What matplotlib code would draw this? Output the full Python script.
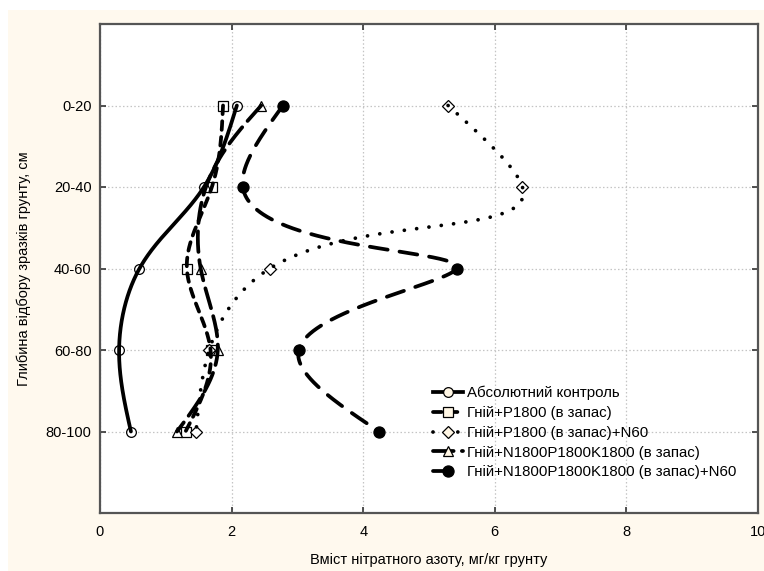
import numpy as np
import matplotlib
matplotlib.use("Agg")
import matplotlib.pyplot as plt
from matplotlib.lines import Line2D
from matplotlib.patches import Rectangle

# ---- data ----
depths = ["0-20", "20-40", "40-60", "60-80", "80-100"]
control = [2.08, 1.58, 0.60, 0.29, 0.47]
manure_p = [1.87, 1.70, 1.32, 1.68, 1.30]
manure_p_n60 = [5.29, 6.42, 2.58, 1.66, 1.46]
manure_npk = [2.45, 1.61, 1.53, 1.79, 1.17]
manure_npk_n60 = [2.78, 2.17, 5.42, 3.02, 4.24]

labels = ["Абсолютний контроль",
          "Гній+P1800 (в запас)",
          "Гній+P1800 (в запас)+N60",
          "Гній+N1800P1800K1800 (в запас)",
          "Гній+N1800P1800K1800 (в запас)+N60"]

x_label = "Вміст нітратного азоту, мг/кг грунту"
y_label = "Глибина відбору зразків грунту, см"


def natural_spline(t, v, tt):
    t = np.asarray(t, float)
    v = np.asarray(v, float)
    n = len(t)
    h = np.diff(t)
    A = np.zeros((n, n))
    b = np.zeros(n)
    A[0, 0] = 1
    A[-1, -1] = 1
    for i in range(1, n - 1):
        A[i, i - 1] = h[i - 1]
        A[i, i] = 2 * (h[i - 1] + h[i])
        A[i, i + 1] = h[i]
        b[i] = 3 * ((v[i + 1] - v[i]) / h[i] - (v[i] - v[i - 1]) / h[i - 1])
    c = np.linalg.solve(A, b)
    out = np.empty_like(tt)
    for k, x in enumerate(tt):
        i = min(max(np.searchsorted(t, x) - 1, 0), n - 2)
        dx = x - t[i]
        bb = (v[i + 1] - v[i]) / h[i] - h[i] * (2 * c[i] + c[i + 1]) / 3
        d = (c[i + 1] - c[i]) / (3 * h[i])
        out[k] = v[i] + bb * dx + c[i] * dx ** 2 + d * dx ** 3
    return out


def param_spline(xv, yv):
    xv = np.asarray(xv, float)
    yv = np.asarray(yv, float)
    d = np.hypot(np.diff(xv), np.diff(yv))
    t = np.concatenate([[0], np.cumsum(d)])
    tt = np.linspace(0, t[-1], 800)
    return natural_spline(t, xv, tt), natural_spline(t, yv, tt)


fig = plt.figure(figsize=(7.64, 5.71), dpi=100, facecolor="white")
cream = "#FFF9EE"
fig.patches.append(Rectangle((8 / 764, 0), 1, 1 - 10 / 571, transform=fig.transFigure,
                             facecolor=cream, edgecolor="none", zorder=-10))
ax = fig.add_axes([100 / 764, 1 - 513 / 571, 658 / 764, 489 / 571])
ax.set_facecolor("white")

ypos = np.arange(1, len(depths) + 1)

series = [
    (control, "o", "white", None, 7.0),
    (manure_p, "s", "white", (2.3, 1.9), 7.0),
    (manure_p_n60, "D", "white", (0.01, 3.3), 6.0),
    (manure_npk, "^", "white", (5.5, 2.2), 7.5),
    (manure_npk_n60, "o", "black", (4.8, 3.2), 8.0),
]

handles = []
lw = 2.7
for (vals, mk, fc, dash, ms), lab in zip(series, labels):
    ax.plot(vals, ypos, linestyle="none", marker=mk, markersize=ms,
            markerfacecolor=fc, markeredgecolor="black", markeredgewidth=0.9, zorder=3)
    xs, ys = param_spline(vals, ypos)
    kw = dict(color="black", linewidth=lw, zorder=4)
    if dash is None:
        line, = ax.plot(xs, ys, linestyle="-", solid_capstyle="round", **kw)
    else:
        line, = ax.plot(xs, ys, linestyle="--", dash_capstyle="round", **kw)
        line.set_dashes(dash)
    h = Line2D([], [], color="black", linewidth=lw, linestyle="-" if dash is None else "--",
               marker=mk, markersize=ms,
               markerfacecolor="#FFF6E4" if fc == "white" else "black",
               markeredgecolor="black", markeredgewidth=0.9, dash_capstyle="round")
    if dash is not None:
        h.set_dashes(dash)
    handles.append(h)

ax.set_xlim(0, 10)
ax.set_ylim(6, 0)
ax.set_xticks([0, 2, 4, 6, 8, 10])
ax.set_yticks(ypos)
ax.set_yticklabels(depths)
ax.grid(True, linestyle=(0, (1.2, 1.8)), color="#c4c4c4", linewidth=0.9, zorder=0)
ax.set_axisbelow(True)

for s in ax.spines.values():
    s.set_color("#555555")
    s.set_linewidth(1.6)

fam = ["Liberation Sans", "DejaVu Sans"]
ax.tick_params(axis="both", direction="in", length=4, width=1.2, color="#333333",
               top=True, right=True)
ax.tick_params(axis="x", pad=9)
ax.tick_params(axis="y", pad=6)
for t in ax.get_xticklabels():
    t.set_fontfamily(fam)
    t.set_fontsize(10.5)
for t in ax.get_yticklabels():
    t.set_fontfamily(fam)
    t.set_fontsize(10.5)

ax.set_xlabel(x_label, fontsize=10.5, family=fam, labelpad=10)
ax.set_ylabel(y_label, fontsize=10.5, family=fam, labelpad=11)

leg = ax.legend(handles, labels, loc="upper left",
                bbox_to_anchor=((433 - 100) / 658, (513 - 386) / 489),
                frameon=False, handlelength=2.0, handletextpad=0.3,
                labelspacing=0.38, borderpad=0, borderaxespad=0,
                prop={"family": fam, "size": 10.8})

fig.savefig("out.png", dpi=100, facecolor="white")
